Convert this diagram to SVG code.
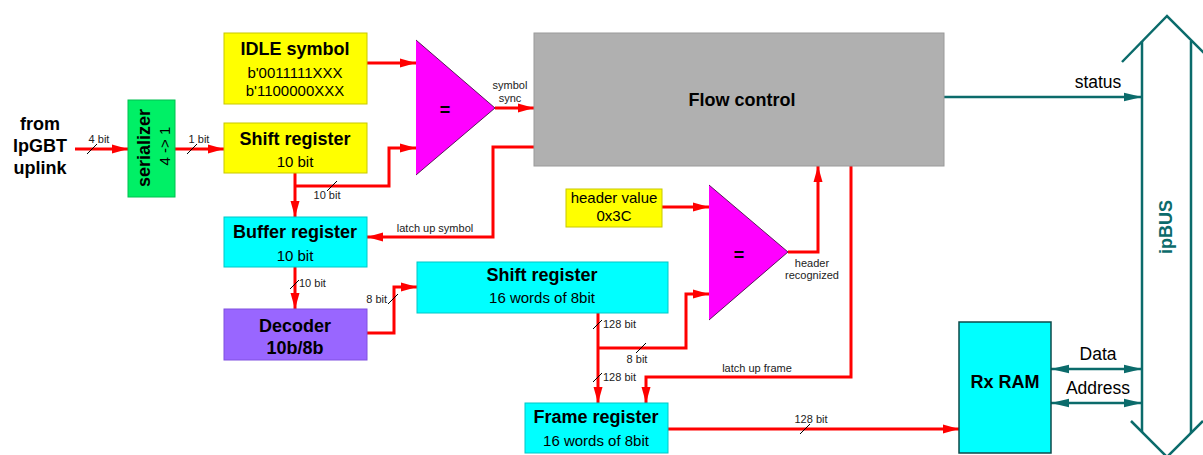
<svg xmlns="http://www.w3.org/2000/svg" width="1203" height="455" viewBox="0 0 1203 455">
<style>
text{font-family:"Liberation Sans",Arial,sans-serif;fill:#000}
.b{font-weight:bold;font-size:18px}
.r{font-size:15px}
.s{font-size:11px;fill:#222}
.t{font-size:17.5px}
.c{text-anchor:middle}
.red{fill:none;stroke:#ff0000;stroke-width:3;marker-end:url(#ar)}
.tl{fill:none;stroke:#0b6b6b;stroke-width:2.5}
.sl{stroke:#000;stroke-width:1}
.yel{fill:#ffff00;stroke:#c8c800;stroke-width:1}
.cya{fill:#00ffff;stroke:#00c8c8;stroke-width:1}
</style>
<defs>
<marker id="ar" markerUnits="userSpaceOnUse" markerWidth="16" markerHeight="10" refX="16" refY="5" orient="auto"><path d="M0,0.5 L16,5 L0,9.5 z" fill="#ff0000"/></marker>
<marker id="at" markerUnits="userSpaceOnUse" markerWidth="18" markerHeight="10" refX="18" refY="5" orient="auto-start-reverse"><path d="M0,0.8 L18,5 L0,9.2 z" fill="#0b6b6b"/></marker>
</defs>
<rect width="1203" height="455" fill="#fff"/>

<g id="connectors">
<path class="red" d="M75,149 H128"/>
<path class="red" d="M175,149 H224"/>
<path class="red" d="M367,63 H416"/>
<path class="red" d="M295,173 V217"/>
<path class="red" d="M295,186 H389 V148 H416"/>
<path class="red" d="M495,108 H534"/>
<path class="red" d="M534,147 H493 V237 H367"/>
<path class="red" d="M295,267 V309"/>
<path class="red" d="M367,333 H394 V287 H417"/>
<path class="red" d="M598,313 V403"/>
<path class="red" d="M598,348 H686 V294 H709"/>
<path class="red" d="M662,207 H709"/>
<path class="red" d="M788,252 H818 V166"/>
<path class="red" d="M851,166 V377 H646 V403"/>
<path class="red" d="M668,429 H959"/>
<path class="tl" d="M944,97 H1142" marker-end="url(#at)" stroke-width="2.5"/>
<path class="tl" d="M1051,369 H1142" marker-start="url(#at)" marker-end="url(#at)"/>
<path class="tl" d="M1051,403 H1142" marker-start="url(#at)" marker-end="url(#at)"/>
<g id="slashes">
<line class="sl" x1="87" y1="154" x2="97" y2="144"/>
<line class="sl" x1="187" y1="154" x2="197" y2="144"/>
<line class="sl" x1="327" y1="191" x2="337" y2="181"/>
<line class="sl" x1="290" y1="289" x2="299" y2="280"/>
<line class="sl" x1="388" y1="304" x2="398" y2="294"/>
<line class="sl" x1="593" y1="329" x2="602" y2="320"/>
<line class="sl" x1="636" y1="353" x2="646" y2="343"/>
<line class="sl" x1="593" y1="382" x2="602" y2="373"/>
<line class="sl" x1="800" y1="434" x2="810" y2="424"/>
</g>
<g id="labels">
<text class="s c" x="99" y="143">4 bit</text>
<text class="s c" x="199" y="143">1 bit</text>
<text class="s c" x="327" y="199">10 bit</text>
<text class="s c" x="510" y="89">symbol</text>
<text class="s c" x="510" y="102">sync</text>
<text class="s c" x="435" y="232">latch up symbol</text>
<text class="s" x="299" y="287">10 bit</text>
<text class="s" x="387" y="303" text-anchor="end">8 bit</text>
<text class="s" x="603" y="328">128 bit</text>
<text class="s c" x="637" y="363">8 bit</text>
<text class="s" x="603" y="381">128 bit</text>
<text class="s c" x="812" y="267">header</text>
<text class="s c" x="812" y="279">recognized</text>
<text class="s c" x="757" y="372">latch up frame</text>
<text class="s c" x="811" y="423">128 bit</text>
<text class="t c" x="1098" y="88">status</text>
<text class="t c" x="1098" y="360">Data</text>
<text class="t c" x="1098" y="394">Address</text>
</g>
</g>

<g id="source">
<text class="b c" x="40" y="130">from</text>
<text class="b c" x="40" y="152">lpGBT</text>
<text class="b c" x="40" y="174">uplink</text>
</g>

<g id="serializer">
<rect x="128" y="100" width="47" height="97" fill="#00f066" stroke="#00c050" stroke-width="1"/>
<text class="b c" transform="translate(150,148) rotate(-90)">serializer</text>
<text class="r c" transform="translate(170,146) rotate(-90)">4 -&gt; 1</text>
</g>

<g id="idle">
<rect class="yel" x="224" y="33" width="143" height="71"/>
<text class="b c" x="295" y="55">IDLE symbol</text>
<text class="r c" x="295" y="78">b'0011111XXX</text>
<text class="r c" x="295" y="96">b'1100000XXX</text>
</g>

<g id="shift10">
<rect class="yel" x="224" y="123" width="143" height="50"/>
<text class="b c" x="295" y="145">Shift register</text>
<text class="r c" x="295" y="167">10 bit</text>
</g>

<g id="cmp1">
<polygon points="416,40 495,108 416,175" fill="#ff00ff"/>
<polyline points="416,40 495,108 416,175" fill="none" stroke="#300030" stroke-width="0.8"/>
<text class="b c" x="445" y="116">=</text>
</g>

<g id="flow">
<rect x="534" y="33" width="410" height="133" fill="#b0b0b0" stroke="#9a9a9a" stroke-width="1"/>
<text class="b c" x="742" y="106">Flow control</text>
</g>

<g id="buffer">
<rect class="cya" x="224" y="217" width="143" height="50"/>
<text class="b c" x="295" y="238">Buffer register</text>
<text class="r c" x="295" y="261">10 bit</text>
</g>

<g id="decoder">
<rect x="224" y="309" width="143" height="51" fill="#9966ff" stroke="#8050e0" stroke-width="1"/>
<text class="b c" x="295" y="332">Decoder</text>
<text class="b c" x="295" y="354">10b/8b</text>
</g>

<g id="shift16">
<rect class="cya" x="417" y="262" width="251" height="51"/>
<text class="b c" x="542" y="281">Shift register</text>
<text class="r c" x="542" y="303">16 words of 8bit</text>
</g>

<g id="header">
<rect class="yel" x="566" y="189" width="96" height="38"/>
<text class="r c" x="614" y="203">header value</text>
<text class="r c" x="614" y="221">0x3C</text>
</g>

<g id="cmp2">
<polygon points="709,185 788,252 709,320" fill="#ff00ff"/>
<polyline points="709,185 788,252 709,320" fill="none" stroke="#300030" stroke-width="0.8"/>
<text class="b c" x="739" y="261">=</text>
</g>

<g id="frame">
<rect class="cya" x="525" y="403" width="143" height="50"/>
<text class="b c" x="596" y="423">Frame register</text>
<text class="r c" x="596" y="446">16 words of 8bit</text>
</g>

<g id="rxram">
<rect x="959" y="322" width="92" height="131" fill="#00ffff" stroke="#0d4a4a" stroke-width="1.5"/>
<text class="b c" x="1005" y="388">Rx RAM</text>
</g>

<g id="ipbus">
<polyline class="tl" points="1122,62 1167,16 1213,62"/>
<polyline class="tl" points="1131,421 1167,457 1203,421"/>
<line class="tl" x1="1142" y1="41" x2="1142" y2="432" stroke-width="2"/>
<line class="tl" x1="1191" y1="41" x2="1191" y2="433" stroke-width="2"/>
<text class="b c" transform="translate(1172,227) rotate(-90)" style="fill:#0b6b6b">ipBUS</text>
</g>
</svg>
